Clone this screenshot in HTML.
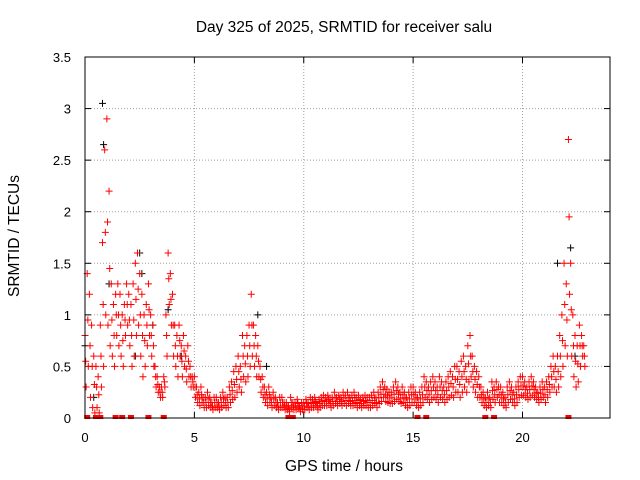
<!DOCTYPE html>
<html><head><meta charset="utf-8"><style>
html,body{margin:0;padding:0;background:#fff}
svg{display:block;font-family:"Liberation Sans",sans-serif}
</style></head><body>
<svg id="chart" width="640" height="480">
<text x="344" y="32" font-size="15.5" text-anchor="middle">Day 325 of 2025, SRMTID for receiver salu</text>
<text x="344" y="471" font-size="15.5" text-anchor="middle">GPS time / hours</text>
<text transform="translate(19,236) rotate(-90)" font-size="15.5" text-anchor="middle">SRMTID / TECUs</text>
<g id="grid"></g>
<g id="axes"></g>
<g id="marks"></g>
<rect x="85" y="57" width="525" height="361" fill="none" stroke="#000"/>
</svg>
<script>
const xTicks=[0,5,10,15,20];
const yTicks=[0,0.5,1,1.5,2,2.5,3,3.5];
const yTickLabels=["0","0.5","1","1.5","2","2.5","3","3.5"];
const seriesA=[0.8,1.4,1.2,0.9,0.6,0.5,0.4,0.9,1.7,2.6,
2.9,2.2,1.3,1.1,1.2,1.3,1.2,1.0,1.1,1.3,
1.2,1.1,1.3,1.5,1.6,1.4,1.2,1.0,1.1,1.3,
1.0,0.9,0.5,0.4,0.3,0.3,0.4,1.0,1.6,1.4,
1.2,0.9,0.8,0.9,0.7,0.8,0.6,0.7,0.5,0.4,
0.4,0.3,0.25,0.3,0.2,0.2,0.25,0.2,0.15,0.2,
0.2,0.15,0.2,0.25,0.2,0.2,0.3,0.35,0.45,0.5,
0.6,0.5,0.8,0.7,0.8,0.9,1.2,0.9,0.8,0.7,
0.5,0.4,0.3,0.25,0.3,0.2,0.25,0.2,0.15,0.2,
0.2,0.15,0.15,0.12,0.2,0.15,0.15,0.18,0.12,0.15,
0.15,0.18,0.15,0.2,0.18,0.2,0.15,0.18,0.2,0.22,
0.2,0.22,0.18,0.2,0.25,0.2,0.22,0.2,0.25,0.22,
0.25,0.2,0.22,0.25,0.2,0.22,0.18,0.2,0.22,0.2,
0.2,0.22,0.25,0.2,0.25,0.3,0.35,0.3,0.28,0.25,
0.25,0.3,0.35,0.3,0.25,0.3,0.25,0.2,0.25,0.3,
0.3,0.25,0.2,0.25,0.3,0.4,0.35,0.3,0.35,0.4,
0.35,0.3,0.4,0.35,0.3,0.35,0.4,0.45,0.4,0.5,
0.5,0.45,0.55,0.6,0.5,0.7,0.8,0.6,0.5,0.45,
0.4,0.3,0.25,0.2,0.25,0.2,0.35,0.3,0.35,0.3,
0.3,0.25,0.2,0.3,0.35,0.3,0.25,0.3,0.35,0.4,
0.4,0.35,0.3,0.35,0.4,0.35,0.3,0.25,0.3,0.35,
0.3,0.35,0.4,0.5,0.6,0.5,0.6,0.8,1.0,1.5,
1.3,2.7,1.5,1.0,0.8,0.7,0.9,0.8,0.7];
const seriesB=[0.3,0.5,0.2,0.1,0.05,0.1,0.05,0.3,0.5,1.0,
0.9,0.7,0.6,0.5,0.8,0.7,0.6,0.5,0.8,0.9,
0.7,0.5,0.6,0.8,0.9,0.6,0.4,0.5,0.7,0.8,
0.6,0.5,0.3,0.25,0.2,0.2,0.3,0.6,1.1,0.9,
0.6,0.5,0.4,0.6,0.4,0.5,0.35,0.4,0.3,0.3,
0.2,0.15,0.12,0.15,0.1,0.1,0.12,0.1,0.08,0.1,
0.1,0.08,0.1,0.12,0.1,0.1,0.15,0.18,0.2,0.25,
0.3,0.25,0.4,0.35,0.4,0.5,0.6,0.5,0.4,0.4,
0.25,0.2,0.15,0.12,0.15,0.1,0.12,0.1,0.08,0.1,
0.1,0.08,0.08,0.06,0.1,0.08,0.08,0.1,0.06,0.08,
0.08,0.1,0.08,0.1,0.1,0.12,0.08,0.1,0.12,0.12,
0.12,0.14,0.1,0.12,0.14,0.12,0.14,0.12,0.14,0.12,
0.14,0.12,0.12,0.14,0.1,0.12,0.1,0.12,0.12,0.1,
0.1,0.12,0.14,0.1,0.14,0.16,0.2,0.16,0.15,0.14,
0.14,0.16,0.18,0.16,0.14,0.15,0.12,0.1,0.12,0.15,
0.15,0.12,0.1,0.12,0.15,0.2,0.18,0.15,0.18,0.2,
0.18,0.15,0.2,0.18,0.15,0.18,0.2,0.22,0.2,0.25,
0.25,0.2,0.25,0.3,0.25,0.35,0.4,0.3,0.25,0.2,
0.2,0.15,0.12,0.1,0.12,0.1,0.18,0.15,0.2,0.15,
0.15,0.12,0.1,0.15,0.18,0.15,0.12,0.15,0.2,0.22,
0.22,0.2,0.18,0.2,0.22,0.2,0.18,0.15,0.18,0.2,
0.15,0.2,0.25,0.3,0.3,0.25,0.3,0.4,0.5,0.7,
0.6,1.2,0.6,0.4,0.3,0.35,0.5,0.6,0.5];
const blackT=[0.0,0.4,0.8,0.85,1.1,2.3,2.5,2.6,3.1,3.8,4.4,7.9,8.3,21.6,22.2,22.4];
const blackV=[0.7,0.2,3.05,2.65,1.3,0.6,1.6,1.4,0.9,1.05,0.6,1.0,0.5,1.5,1.65,0.6];
const zeroT=[0.1,0.5,0.7,1.4,1.7,2.1,2.9,3.6,9.3,9.5,15.2,15.6,18.3,18.7,22.1];
const X=t=>85+t*(525/24);
const Y=v=>418-v*(361/3.5);
const ns="http://www.w3.org/2000/svg";
const grid=document.getElementById('grid'),axes=document.getElementById('axes'),marks=document.getElementById('marks');
function mk(tag,a,p){const e=document.createElementNS(ns,tag);for(const k in a)e.setAttribute(k,a[k]);p.appendChild(e);return e;}
xTicks.forEach(t=>{
  const g=mk('line',{x1:X(t),x2:X(t),y1:57,y2:418,stroke:'#a0a0a0','stroke-dasharray':'1,2'},grid);
  
  
  const tx=mk('text',{x:X(t),y:442,'font-size':13,'text-anchor':'middle'},axes);tx.textContent=t;
  
  
  mk('line',{x1:X(t),x2:X(t),y1:418,y2:412,stroke:'#000'},axes);
  mk('line',{x1:X(t),x2:X(t),y1:57,y2:63,stroke:'#000'},axes);
});
yTicks.forEach((v,i)=>{
  const g=mk('line',{x1:85,x2:610,y1:Y(v),y2:Y(v),stroke:'#a0a0a0','stroke-dasharray':'1,2'},grid);
  
  
  const tx=mk('text',{x:71,y:Y(v)+5,'font-size':13,'text-anchor':'end'},axes);tx.textContent=yTickLabels[i];
  
  
  mk('line',{x1:85,x2:91,y1:Y(v),y2:Y(v),stroke:'#000'},axes);
  mk('line',{x1:610,x2:604,y1:Y(v),y2:Y(v),stroke:'#000'},axes);
});
function plus(t,v,c,name){
  const x=X(t),y=Y(v);
  const p=mk('path',{d:`M${x-3.5},${y}h7M${x},${y-3.5}v7`,stroke:c,'stroke-width':1,fill:'none'},marks);
  
  
}
blackT.forEach((t,i)=>plus(t,blackV[i],'#000','black-point'));
seriesA.forEach((v,i)=>plus(i*0.1,v,'#f00','red-point'));
seriesB.forEach((v,i)=>plus(i*0.1+0.05,v,'#f00','red-point'));
seriesA.forEach((v,i)=>plus(i*0.1+0.03,(v+seriesB[i])/2,'#f00','red-point'));
zeroT.forEach(t=>{
  const r=mk('rect',{x:X(t)-3,y:Y(0)-3,width:6,height:4,fill:'#f00'},marks);
  
  
});
</script>
</body></html>
